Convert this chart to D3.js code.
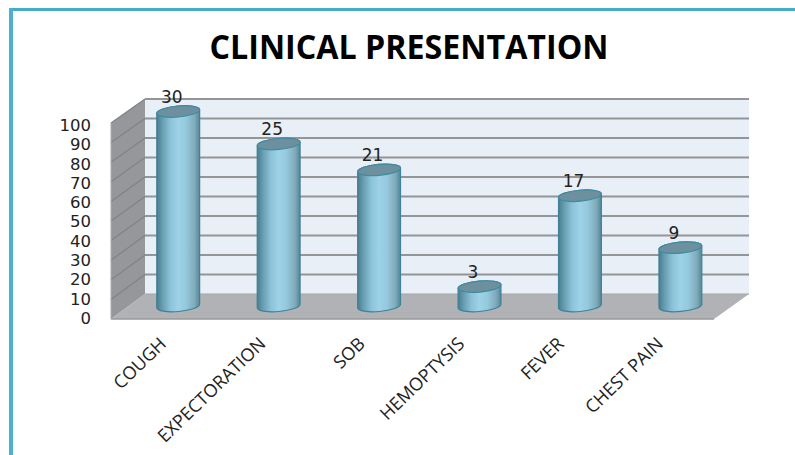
<!DOCTYPE html>
<html>
<head>
<meta charset="utf-8">
<script src="https://cdn.jsdelivr.net/npm/d3@7"></script>
<style>
html, body { margin: 0; padding: 0; background: #fff; }
svg { display: block; }
text { font-family: "Open Sans", sans-serif; fill: #222; }
</style>
</head>
<body>
<svg id="chart" width="795" height="455"></svg>
<script>
var title = "CLINICAL PRESENTATION";
var categories = ["COUGH", "EXPECTORATION", "SOB", "HEMOPTYSIS", "FEVER", "CHEST PAIN"];
var counts = [30, 25, 21, 3, 17, 9];
var percents = [100, 83.3, 70, 10, 56.7, 30];
var yTicks = [0, 10, 20, 30, 40, 50, 60, 70, 80, 90, 100];

var svg = d3.select("#chart");

// three y scales: front edge of the wall, back wall, and the plane the bars stand in
var yFront = d3.scaleLinear().domain([0, 100]).range([319, 123]);
var yBack = d3.scaleLinear().domain([0, 100]).range([294, 99]);
var yBar = d3.scaleLinear().domain([0, 100]).range([306, 111.5]);
var yTick = d3.scaleLinear().domain([0, 100]).range([317.5, 124.5]);
var xBar = d3.scaleBand().domain(categories).range([128, 730.6]);
var xLabel = d3.scalePoint().domain(categories).range([158, 655]);

var rx = 21.5, ry = 5.5, tilt = -5;

var defs = svg.append("defs");
var grad = defs.append("linearGradient").attr("id", "cyl").attr("x1", 0).attr("x2", 1).attr("y1", 0).attr("y2", 0);
[[0, "#4a7c90"], [0.12, "#659bae"], [0.32, "#8cc3d9"], [0.5, "#9dd2e7"], [0.68, "#95c9dd"], [0.88, "#80abbb"], [1, "#538899"]]
    .forEach(function (s) {
        grad.append("stop").attr("offset", s[0]).attr("stop-color", s[1]);
    });

// border
svg.append("rect").attr("x", 9).attr("y", 8).attr("width", 786).attr("height", 3).attr("fill", "#45abc6");
svg.append("rect").attr("x", 9).attr("y", 8).attr("width", 4).attr("height", 447).attr("fill", "#4fb0cb");

svg.append("text")
    .attr("x", 409).attr("y", 59)
    .attr("text-anchor", "middle")
    .style("font-size", "34px").style("font-weight", 700).style("fill", "#000")
    .attr("textLength", 399).attr("lengthAdjust", "spacingAndGlyphs")
    .text(title);

// walls and floor
var xL = 111, xB = 145, xR = 749, xF = 714;
svg.append("rect")
    .attr("x", xB).attr("y", yBack(100))
    .attr("width", xR - xB).attr("height", yBack(0) - yBack(100))
    .attr("fill", "#e8eff6");
svg.append("polygon")
    .attr("points", [[xL, yFront(100)], [xB, yBack(100)], [xB, yBack(0)], [xL, yFront(0)]].join(" "))
    .attr("fill", "#95979a");
svg.append("polygon")
    .attr("points", [[xL, yFront(0)], [xF, yFront(0)], [xR, yBack(0)], [xB, yBack(0)]].join(" "))
    .attr("fill", "#b0b2b5");

svg.selectAll(".grid").data(yTicks.slice(1)).enter().append("line")
    .attr("class", "grid")
    .attr("x1", xB).attr("x2", xR)
    .attr("y1", function (d) { return yBack(d); })
    .attr("y2", function (d) { return yBack(d); })
    .attr("stroke", "#949597").attr("stroke-width", 1.8);
svg.selectAll(".side").data(yTicks.slice(1)).enter().append("line")
    .attr("class", "side")
    .attr("x1", xL).attr("x2", xB)
    .attr("y1", function (d) { return yFront(d); })
    .attr("y2", function (d) { return yBack(d); })
    .attr("stroke", "#808285").attr("stroke-width", 1.2);
svg.append("line")
    .attr("x1", xL).attr("x2", xF).attr("y1", yFront(0)).attr("y2", yFront(0))
    .attr("stroke", "#97999b").attr("stroke-width", 1.6);
svg.append("line")
    .attr("x1", xL).attr("x2", xL).attr("y1", yFront(0)).attr("y2", yFront(100))
    .attr("stroke", "#a9abad").attr("stroke-width", 1);
svg.append("line")
    .attr("x1", xB).attr("x2", xR).attr("y1", yBack(0)).attr("y2", yBack(0))
    .attr("stroke", "#a4a6a8").attr("stroke-width", 1);

// cylinders
var dx = rx * Math.cos(tilt * Math.PI / 180), dy = rx * Math.sin(tilt * Math.PI / 180);
var bars = svg.selectAll(".bar").data(categories).enter().append("g").attr("class", "bar");

function cx(i) { return xBar(categories[i]) + xBar.bandwidth() / 2; }

bars.append("path")
    .attr("d", function (c, i) {
        var x = cx(i), t = yBar(percents[i]), b = yBar(0);
        return "M" + (x - dx) + "," + (t - dy) +
            "L" + (x - dx) + "," + (b - dy) +
            "A" + rx + "," + ry + " " + tilt + " 0 0 " + (x + dx) + "," + (b + dy) +
            "L" + (x + dx) + "," + (t + dy) +
            "A" + rx + "," + ry + " " + tilt + " 0 0 " + (x - dx) + "," + (t - dy) + "Z";
    })
    .attr("fill", "url(#cyl)").attr("stroke", "#3f8196").attr("stroke-width", 1.2);

bars.append("ellipse")
    .attr("rx", rx).attr("ry", ry)
    .attr("transform", function (c, i) {
        return "translate(" + cx(i) + "," + yBar(percents[i]) + ") rotate(" + tilt + ")";
    })
    .attr("fill", "#6c909e").attr("stroke", "#3f8ba2").attr("stroke-width", 1.2);

bars.append("text")
    .attr("x", function (c, i) { return cx(i) - 6.5; })
    .attr("y", function (c, i) { return yBar(percents[i]) - 9; })
    .attr("text-anchor", "middle")
    .style("font-family", "'DejaVu Sans', sans-serif")
    .style("font-size", "17px")
    .text(function (c, i) { return counts[i]; });

// axes
var yAxis = d3.axisLeft(yTick).tickValues(yTicks).tickSize(0).tickPadding(0);
var gy = svg.append("g").attr("transform", "translate(91,0)").call(yAxis);
gy.select(".domain").remove();
gy.selectAll("text")
    .style("font-family", "'DejaVu Sans', sans-serif")
    .style("font-size", "16.5px")
    .attr("dy", "0.36em");

var xAxis = d3.axisBottom(xLabel).tickSize(0).tickPadding(0);
var gx = svg.append("g").attr("transform", "translate(0,336)").call(xAxis);
gx.select(".domain").remove();
gx.selectAll("text")
    .style("font-size", "18px")
    .attr("text-anchor", "end")
    .attr("x", 0).attr("y", 0).attr("dy", "0.71em")
    .attr("transform", "rotate(-44)");
</script>
</body>
</html>
